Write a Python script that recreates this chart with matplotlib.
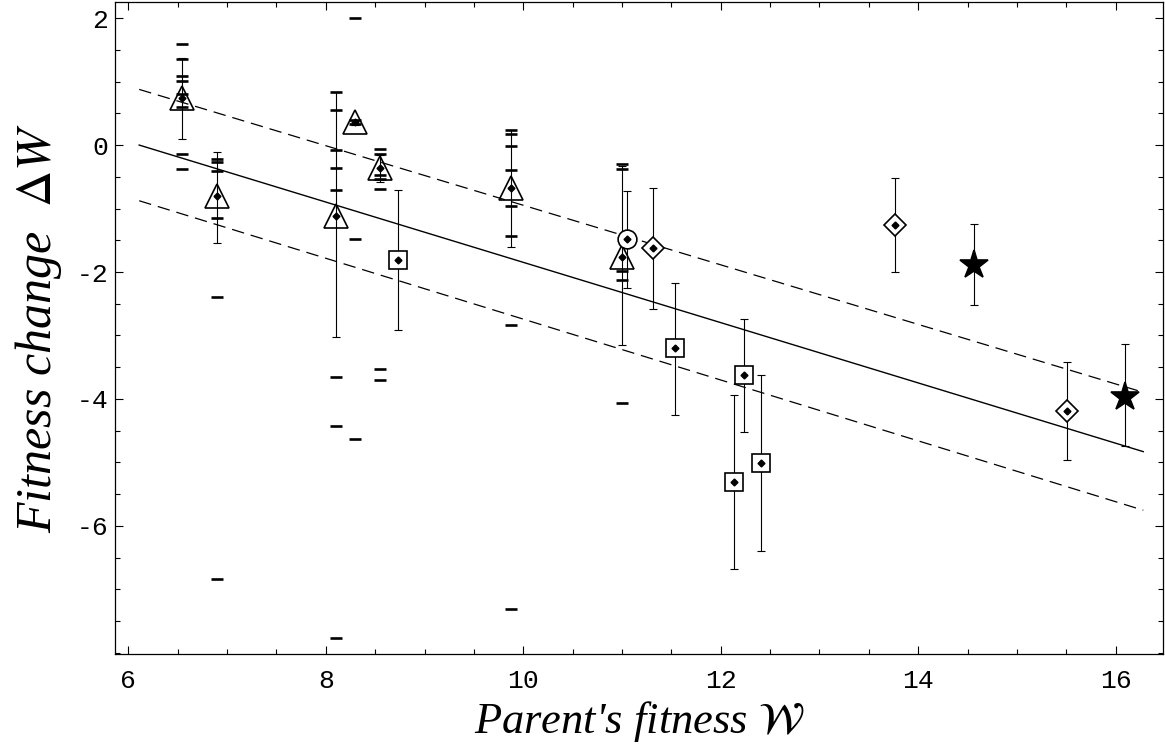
import numpy as np
import matplotlib
matplotlib.use('Agg')
import matplotlib.pyplot as plt
from matplotlib.ticker import MultipleLocator

plt.rcParams['mathtext.fontset'] = 'stix'
plt.rcParams['axes.unicode_minus'] = False
plt.rcParams['lines.scale_dashes'] = False

# Regression line and band (end points)
fit_x = [6.11, 16.28]
fit_y = [0.0, -4.83]
band_hi = [0.877, -3.895]
band_lo = [-0.877, -5.753]

# Triangles: mean, error range and individual runs
tri_x = [6.54, 6.90, 8.10, 8.30, 8.55, 9.874, 11.0]
tri_y = [0.745, -0.81, -1.118, 0.357, -0.357, -0.677, -1.769]
tri_lo = [0.10, -1.548, -3.03, 0.32, -0.58, -1.61, -3.15]
tri_hi = [1.365, -0.105, 0.83, 0.39, -0.15, 0.236, -0.336]
tri_runs = [
    [1.585, 1.354, 1.087, 1.013, 0.798, 0.603, -0.147, -0.373],
    [-0.22, -0.27, -0.41, -1.155, -2.40, -6.84],
    [0.84, 0.546, -0.084, -0.357, -0.703, -3.66, -4.43, -7.77],
    [2.0, 0.394, 0.33, -1.48, -4.625],
    [-0.068, -0.147, -0.478, -0.535, -0.688, -3.53, -3.70],
    [0.24, 0.18, -0.016, -0.399, -0.955, -1.44, -2.84, -7.31],
    [-0.30, -0.37, -1.98, -2.13, -4.07],
]

# Squares
sq_x = [8.736, 11.54, 12.134, 12.231, 12.41]
sq_y = [-1.816, -3.205, -5.302, -3.625, -5.003]
sq_lo = [-2.92, -4.25, -6.672, -4.513, -6.389]
sq_hi = [-0.71, -2.168, -3.932, -2.745, -3.617]

# Diamonds
dia_x = [11.316, 13.762, 15.503]
dia_y = [-1.625, -1.26, -4.189]
dia_lo = [-2.583, -2.005, -4.956]
dia_hi = [-0.675, -0.525, -3.423]

# Circle
circ_x = [11.05]
circ_y = [-1.486]
circ_lo = [-2.254]
circ_hi = [-0.722]

# Stars
star_x = [14.561, 16.095]
star_y = [-1.89, -3.974]
star_lo = [-2.515, -4.735]
star_hi = [-1.244, -3.129]

fig = plt.figure(figsize=(11.65, 7.51), dpi=100)
ax = fig.add_axes([0.0987, 0.129, 0.8996, 0.868])

ax.plot(fit_x, fit_y, color='black', lw=1.0, zorder=1)
ax.plot(fit_x, band_hi, color='black', lw=0.9, dashes=(9, 5), zorder=1)
ax.plot(fit_x, band_lo, color='black', lw=0.9, dashes=(9, 5), zorder=1)


def draw_group(xs, ys, lo, hi, marker, ms, fill, center=True):
    ys = np.array(ys)
    yerr = [ys - np.array(lo), np.array(hi) - ys]
    ax.errorbar(xs, ys, yerr=yerr, fmt='none', ecolor='black',
                elinewidth=0.8, capsize=3, capthick=0.8, zorder=2)
    ax.plot(xs, ys, ls='none', marker=marker, ms=ms, mfc=fill,
            mec='black', mew=1.2, zorder=3)
    if center:
        ax.plot(xs, ys, ls='none', marker='D', ms=3.5, color='black', zorder=5)


draw_group(tri_x, tri_y, tri_lo, tri_hi, '^', 17, 'none')
for x, runs in zip(tri_x, tri_runs):
    ax.plot([x] * len(runs), runs, ls='none', marker='_', ms=9, mew=1.9,
            color='black', zorder=4)
draw_group(sq_x, sq_y, sq_lo, sq_hi, 's', 13, 'white')
draw_group(dia_x, dia_y, dia_lo, dia_hi, 'D', 11.5, 'white')
draw_group(circ_x, circ_y, circ_lo, circ_hi, 'o', 13.5, 'white')
draw_group(star_x, star_y, star_lo, star_hi, '*', 21, 'black', center=False)

ax.set_xlim(5.865, 16.48)
ax.set_ylim(-8.02, 2.25)
ax.set_xticks([6, 8, 10, 12, 14, 16])
ax.set_yticks([-6, -4, -2, 0, 2])
ax.xaxis.set_minor_locator(MultipleLocator(0.5))
ax.yaxis.set_minor_locator(MultipleLocator(0.5))
ax.tick_params(which='both', direction='in', top=True, right=True, width=0.8)
ax.tick_params(which='major', length=6)
ax.tick_params(which='minor', length=3.5)
ax.tick_params(axis='x', which='major', pad=11)
ax.tick_params(axis='y', which='major', pad=5)
for lab in ax.get_xticklabels() + ax.get_yticklabels():
    lab.set_fontfamily('Liberation Mono')
    lab.set_fontsize(19)
for sp in ax.spines.values():
    sp.set_linewidth(0.9)

ax.set_xlabel("Parent's fitness $\\mathcal{W}$", family='Liberation Serif',
              style='italic', fontsize=32, labelpad=4)
ax.set_ylabel("Fitness change  $\\Delta W$", family='Liberation Serif',
              style='italic', fontsize=36, labelpad=9)

fig.savefig('out.png', dpi=100)
